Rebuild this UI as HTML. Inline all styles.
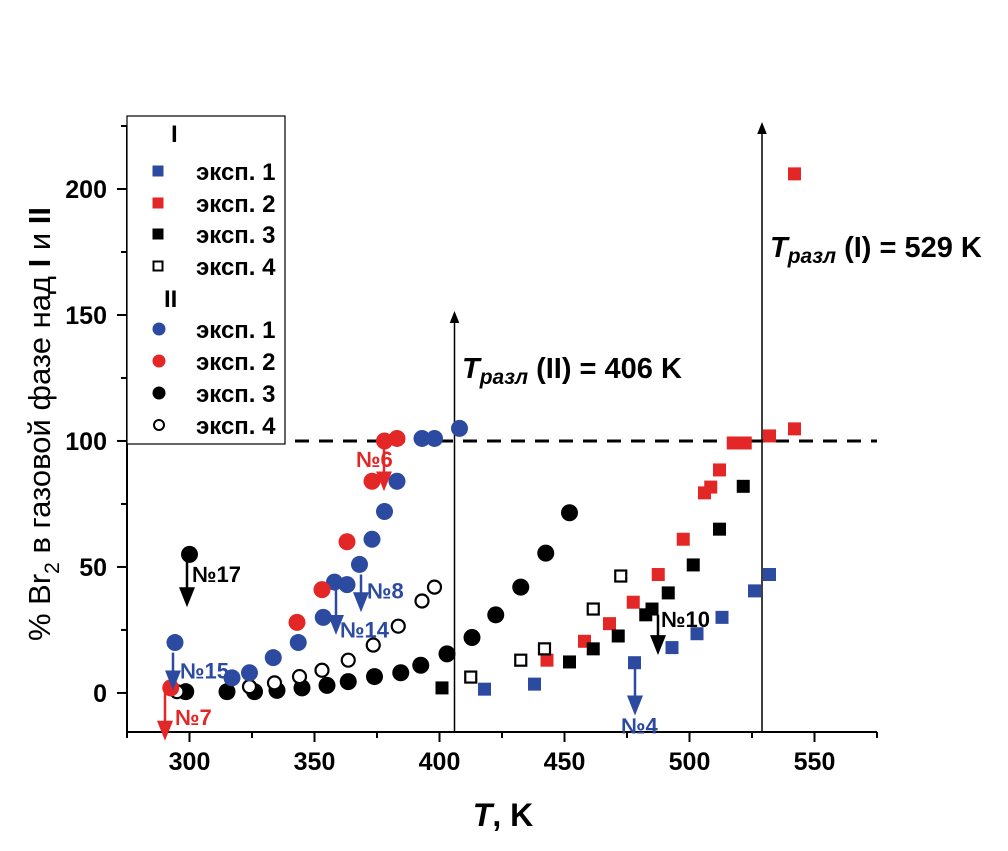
<!DOCTYPE html>
<html><head><meta charset="utf-8"><style>
body{margin:0;background:#fff}
svg{display:block;font-family:"Liberation Sans",Arial,sans-serif}
</style></head><body>
<svg id="c" width="1008" height="851" viewBox="0 0 1008 851">
<defs><marker id="ah" viewBox="0 0 10 10" refX="5" refY="5" markerWidth="8" markerHeight="8" orient="auto-start-reverse"><path d="M0,1 L10,5 L0,9 z" fill="context-stroke"/></marker></defs>
<g id="plot"></g>
</svg>
<script>
const xTicks=[300,350,400,450,500,550];
const yTicks=[0,50,100,150,200];
const decompT=[406,529];
const decompTop=[150,225];
// II (circles)
const c1T=[294.2,317,324,333.5,343.5,353.5,358,363,368,373,378,383,393,398,408];
const c1V=[20,6,8,14,20,30,44,43,51,61,72,84,101,101,105];
const c2T=[292.5,343,353,363,373,378,383];
const c2V=[2,28,41,60,84,100,101];
const c3T=[300,298.5,315,326,335,345,355,363.5,374,384.5,392.5,403,413,422.5,432.5,442.5,452];
const c3V=[55,0.5,0.5,0.5,1,2,3,4.5,6.5,8,11,15.5,22,31,42,55.5,71.5];
const c4T=[295,324,334,344,353,363.5,373.5,383.5,393,398];
const c4V=[0.5,2.5,4,6.5,9,13,19,26.5,36.5,42];
// I (squares)
const s1T=[418,438,478,493,503,513,526,532];
const s1V=[1.5,3.5,12,18,23.5,30,40.5,47];
const s2T=[443,458,468,477.5,487.5,497.5,506,508.5,512,517.5,522.3,532,542,542];
const s2V=[13,20.5,27.5,36,47,61,79.4,81.7,88.5,99.2,99.2,102,104.8,206];
const s3T=[401,452,461.5,471.5,482.5,485,491.5,501.5,512,521.5];
const s3V=[2,12.3,17.5,22.6,31,33.3,39.7,50.8,65,82];
const s4T=[412.5,432.5,442,461.5,472.5];
const s4V=[6.3,13,17.5,33.3,46.4];
const notes=[["№6","#e32726",384,100,84],["№17","#000",187,54,38],["№8","#2b4aa0",361,47,36],["№14","#2b4aa0",336,41,27],["№15","#2b4aa0",173,16,5],["№7","#e32726",165,0,-15],["№10","#000",658,31,19],["№4","#2b4aa0",635,10,-5]];

const X0=275,X1=575,Y0=-15.5,Y1=225,L=127,R=877,T=126,B=732;
const sx=t=>L+(t-X0)/(X1-X0)*(R-L);
const sy=v=>B-(v-Y0)/(Y1-Y0)*(B-T);
const NS="http://www.w3.org/2000/svg";
const g=document.getElementById('plot');
function mk(tag,at,txt){const e=document.createElementNS(NS,tag);for(const k in at)e.setAttribute(k,at[k]);if(txt!=null)e.textContent=txt;g.appendChild(e);return e;}
const BL="#2b4aa0",RD="#e32726";

let e=mk('line',{x1:L,y1:T,x2:L,y2:B,stroke:'#000','stroke-width':2});


e=mk('line',{x1:L,y1:B,x2:R,y2:B,stroke:'#000','stroke-width':2});


for(let t=X0;t<=X1;t+=25){const maj=t%50==0;mk('line',{x1:sx(t),y1:B,x2:sx(t),y2:B+(maj?10:6),stroke:'#000','stroke-width':2});}
xTicks.forEach(t=>{const el=mk('text',{x:sx(t),y:B+38,'text-anchor':'middle','font-size':25,'font-weight':'bold'},t);

});
for(let v=0;v<=Y1;v+=25){const maj=v%50==0;mk('line',{x1:L,y1:sy(v),x2:L-(maj?10:6),y2:sy(v),stroke:'#000','stroke-width':2});}
yTicks.forEach(v=>{const el=mk('text',{x:107,y:sy(v)+9,'text-anchor':'end','font-size':25,'font-weight':'bold'},v);

});

e=mk('text',{x:503,y:826,'text-anchor':'middle','font-size':32,'font-weight':'bold'});
e.innerHTML='<tspan font-style="italic">T</tspan>, K';


e=mk('text',{x:0,y:0,'text-anchor':'middle','font-size':31,transform:'translate(50,424) rotate(-90)'});
e.innerHTML='% Br<tspan font-size="21" dy="9">2</tspan><tspan dy="-9"> в газовой фазе над </tspan><tspan font-weight="bold">I</tspan> и <tspan font-weight="bold">II</tspan>';



e=mk('line',{x1:L,y1:sy(100),x2:R,y2:sy(100),stroke:'#000','stroke-width':3,'stroke-dasharray':'14,10'});



decompT.forEach((t,i)=>{const el=mk('line',{x1:sx(t),y1:B,x2:sx(t),y2:sy(decompTop[i])+2,stroke:'#000','stroke-width':1.5,'marker-end':'url(#ah)'});

});
e=mk('text',{x:462,y:378,'font-size':29,'font-weight':'bold'});
e.innerHTML='<tspan font-style="italic">T</tspan><tspan font-style="italic" font-size="21" dy="6">разл</tspan><tspan dy="-6"> (II) = 406 K</tspan>';


e=mk('text',{x:770,y:257,'font-size':29,'font-weight':'bold'});
e.innerHTML='<tspan font-style="italic">T</tspan><tspan font-style="italic" font-size="21" dy="6">разл</tspan><tspan dy="-6"> (I) = 529 K</tspan>';



function circles(Ts,Vs,col,open,name){Ts.forEach((t,i)=>{const el=mk('circle',{cx:sx(t),cy:sy(Vs[i]),r:open?6.5:8.5,fill:open?'#fff':col,stroke:col,'stroke-width':open?2.2:0});

});}
function squares(Ts,Vs,col,open,name){Ts.forEach((t,i)=>{const s=open?11:13;const el=mk('rect',{x:sx(t)-s/2,y:sy(Vs[i])-s/2,width:s,height:s,fill:open?'#fff':col,stroke:col,'stroke-width':open?2.2:0});

});}
squares(s1T,s1V,BL,false,'point-i-exp1');
squares(s2T,s2V,RD,false,'point-i-exp2');
squares(s3T,s3V,'#000',false,'point-i-exp3');
squares(s4T,s4V,'#000',true,'point-i-exp4');
circles(c3T,c3V,'#000',false,'point-ii-exp3');
circles(c4T,c4V,'#000',true,'point-ii-exp4');
circles(c1T,c1V,BL,false,'point-ii-exp1');
circles(c2T,c2V,RD,false,'point-ii-exp2');

const lblOff={"№6":[-28,26],"№17":[5,25],"№8":[6,24],"№14":[4,48],"№15":[7,26],"№7":[10,32],"№10":[3,12],"№4":[-14,66]};
notes.forEach(n=>{const x=n[2];const y1=sy(n[3]),y2=sy(n[4]);
const a=mk('line',{x1:x,y1:y1,x2:x,y2:y2,stroke:n[1],'stroke-width':2.5,'marker-end':'url(#ah)'});


const o=lblOff[n[0]];
const t=mk('text',{x:x+o[0],y:y1+o[1],'font-size':22,'font-weight':'bold',fill:n[1]},n[0]);

});

const lg=mk('rect',{x:127,y:116,width:158,height:328,fill:'#fff',stroke:'#000','stroke-width':1.2});


e=mk('text',{x:171,y:142,'font-size':24,'font-weight':'bold'},'I');


e=mk('text',{x:164,y:307,'font-size':24,'font-weight':'bold'},'II');


const legCols=[BL,RD,'#000','#000'];
[171,203,234,266].forEach((y,i)=>{const open=i==3;const s=open?9:11;
const r=mk('rect',{x:158-s/2,y:y-s/2,width:s,height:s,fill:open?'#fff':legCols[i],stroke:legCols[i],'stroke-width':open?2:0});


const t=mk('text',{x:196,y:y+9,'font-size':24,'font-weight':'bold'},'эксп. '+(i+1));

});
[329,361,393,425].forEach((y,i)=>{const open=i==3;
const c=mk('circle',{cx:159,cy:y,r:open?5:6.5,fill:open?'#fff':legCols[i],stroke:legCols[i],'stroke-width':open?2:0});


const t=mk('text',{x:196,y:y+9,'font-size':24,'font-weight':'bold'},'эксп. '+(i+1));

});
</script>
</body></html>
